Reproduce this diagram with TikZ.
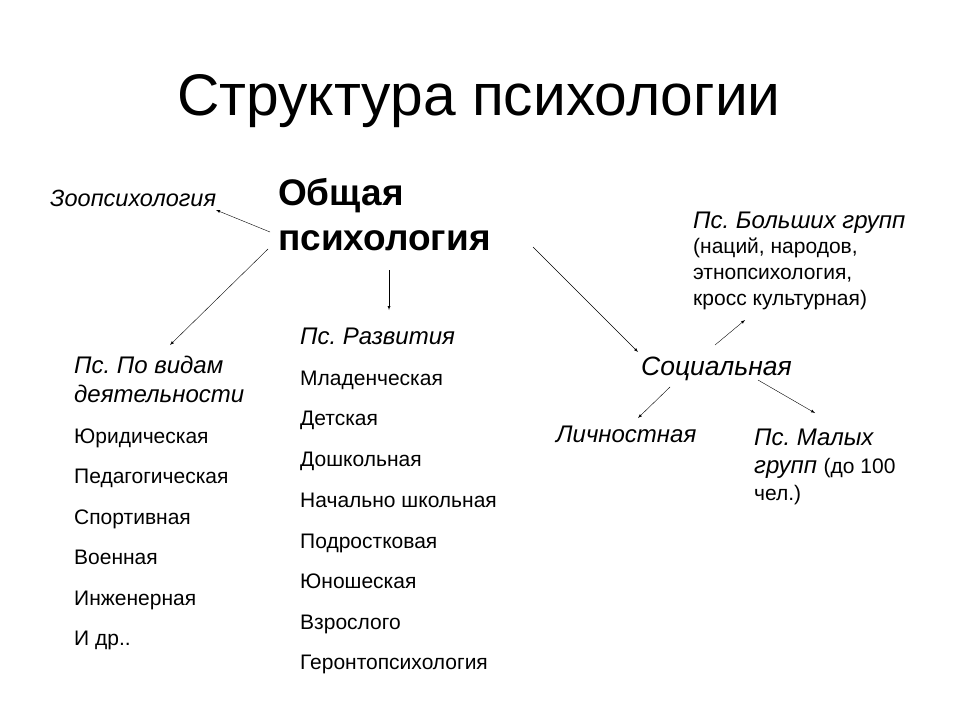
\documentclass[tikz,border=0pt]{standalone}
\usepackage{fontspec}
\setmainfont{Liberation Sans}
\frenchspacing
\begin{document}
\begin{tikzpicture}[x=1pt,y=-1pt,
  t/.style={anchor=base west,inner sep=0pt,font=\fontsize{21}{24}\selectfont},
  h/.style={anchor=base west,inner sep=0pt,font=\fontsize{24}{28}\selectfont\itshape},
  arr/.style={-latex,thin}]
\useasboundingbox (0,0) rectangle (960,720);
\fill[white] (0,0) rectangle (960,720);
\node[anchor=base,inner sep=0pt,font=\fontsize{58.7}{66}\selectfont] (title) at (479,115) {Структура психологии};
\node[anchor=base west,inner sep=0pt,font=\fontsize{37}{40}\selectfont\bfseries] (g1) at (278,205) {Общая};
\node[anchor=base west,inner sep=0pt,font=\fontsize{37}{40}\selectfont\bfseries] (g2) at (278,250) {психология};
\node[h,font=\fontsize{23.5}{26}\selectfont\itshape] (zoo) at (50,206) {Зоопсихология};
\coordinate (zooE) at (216,210);
\coordinate (gl1) at (270,232);
\coordinate (gl2) at (268,249);
\coordinate (gd) at (389,270);
\coordinate (gr) at (533,247);
% left
\node[h] (l0) at (74,373) {Пс. По видам};
\node[h] (l1) at (74,402) {деятельности};
\foreach \n/\y/\s in {a/443/Юридическая,b/483/Педагогическая,c/524/Спортивная,d/564/Военная,e/605/Инженерная,f/645/И др..}
  \node[t] (l\n) at (74,\y) {\s};
% middle
\node[h] (m0) at (300,344) {Пс. Развития};
\foreach \n/\y/\s in {a/385/Младенческая,b/425/Детская,c/466/Дошкольная,d/507/Начально школьная,e/548/Подростковая,f/588/Юношеская,g/629/Взрослого,h/669/Геронтопсихология}
  \node[t] (m\n) at (300,\y) {\s};
% right
\node[h] (big) at (693,228) {Пс. Больших групп};
\node[t] (b1) at (693,253) {(наций, народов,};
\node[t] (b2) at (693,279) {этнопсихология,};
\node[t] (b3) at (693,305) {кросс культурная)};
\node[h,font=\fontsize{26.5}{30}\selectfont\itshape] (soc) at (641,375) {Социальная};
\node[h] (lich) at (556,442) {Личностная};
\node[h] (mal1) at (754,445) {Пс. Малых};
\node[anchor=base west,inner sep=0pt] (mal2) at (754,473) {\fontsize{24}{28}\selectfont\itshape групп \fontsize{21}{24}\selectfont\upshape (до 100};
\node[t] (mal3) at (754,500) {чел.)};
\draw[arr] (gl1) -- (zooE);
\draw[arr] (gl2) -- (170,345) coordinate (lt);
\draw[arr] (gd) -- (389,310) coordinate (mt);
\draw[arr] (gr) -- (638,352) coordinate (st);
\draw[arr] (670,387) coordinate (s1) -- (638,418) coordinate (lt2);
\draw[arr] (715,345) coordinate (s2) -- (745,320) coordinate (bt);
\draw[arr] (758,380) coordinate (s3) -- (815,413) coordinate (mt2);
\end{tikzpicture}
\end{document}
